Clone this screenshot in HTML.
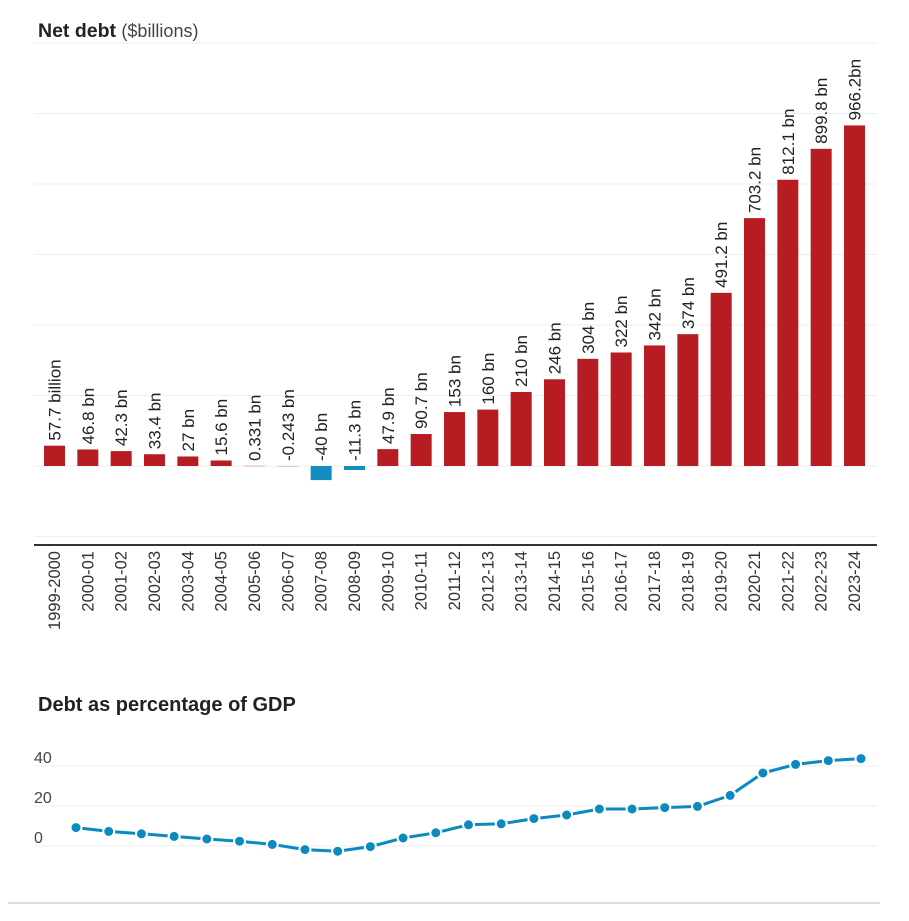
<!DOCTYPE html>
<html><head><meta charset="utf-8"><style>
body{margin:0;background:#fff;font-family:"Liberation Sans",sans-serif;}
svg{display:block}
</style></head><body>
<svg id="c" width="909" height="921">
<text x="38" y="37" font-size="19.5" font-weight="bold" fill="#222">Net debt <tspan font-weight="normal" font-size="18" fill="#444">($billions)</tspan></text>
<text x="38" y="711" font-size="20" font-weight="bold" fill="#222">Debt as percentage of GDP</text>
<line x1="8" x2="880" y1="903" y2="903" stroke="#ddd" stroke-width="2"/>
<g id="bars"></g><g id="line"></g>
</svg>
<script>
const categories=["1999-2000","2000-01","2001-02","2002-03","2003-04","2004-05","2005-06","2006-07","2007-08","2008-09","2009-10","2010-11","2011-12","2012-13","2013-14","2014-15","2015-16","2016-17","2017-18","2018-19","2019-20","2020-21","2021-22","2022-23","2023-24"];
const debtValues=[57.7,46.8,42.3,33.4,27,15.6,0.331,-0.243,-40,-11.3,47.9,90.7,153,160,210,246,304,322,342,374,491.2,703.2,812.1,899.8,966.2];
const debtLabels=["57.7 billion","46.8 bn","42.3 bn","33.4 bn","27 bn","15.6 bn","0.331 bn","-0.243 bn","-40 bn","-11.3 bn","47.9 bn","90.7 bn","153 bn","160 bn","210 bn","246 bn","304 bn","322 bn","342 bn","374 bn","491.2 bn","703.2 bn","812.1 bn","899.8 bn","966.2bn"];
const debtTicks=[-200,0,200,400,600,800,1000,1200];
const gdpPct=[9.2,7.3,6.1,4.8,3.5,2.4,0.8,-1.8,-2.6,-0.3,4,6.6,10.6,11.1,13.7,15.5,18.5,18.5,19.2,19.8,25.3,36.5,40.8,42.7,43.7];
const gdpTicks=[0,20,40];
const NS="http://www.w3.org/2000/svg";
function mk(t,a,p){const e=document.createElementNS(NS,t);for(const k in a)e.setAttribute(k,a[k]);p.appendChild(e);return e;}
const bx=i=>54.5+i*(800/24);
const by=v=>466-v*(70.5/200);
const bars=document.getElementById('bars');
debtTicks.forEach(t=>{const l=mk('line',{x1:34,x2:877,y1:by(t),y2:by(t),stroke:'#eee','stroke-width':1},bars);

});
const ax=mk('line',{x1:34,x2:877,y1:545,y2:545,stroke:'#333','stroke-width':2},bars);


categories.forEach((c,i)=>{
 const v=debtValues[i],x=bx(i),y0=by(0),y1=by(v);
 const r=mk('rect',{x:x-10.5,y:Math.min(y0,y1),width:21,height:Math.max(Math.abs(y1-y0),0.3),fill:v<0?'#118dbf':'#b71c22'},bars);
 
 
 const ly=Math.min(y0,y1)-5;
 const t=mk('text',{x:x+6,y:ly,'font-size':17,fill:'#222',transform:`rotate(-90 ${x+6} ${ly})`},bars);
 t.textContent=debtLabels[i];
 
 
 const xt=mk('text',{x:x+5.5,y:551,'font-size':16.5,fill:'#333','text-anchor':'end',transform:`rotate(-90 ${x+5.5} 551)`},bars);
 xt.textContent=c;
 
 
});
const lg=document.getElementById('line');
const lx=i=>76+i*(785/24);
const ly=v=>846-v*2;
gdpTicks.forEach(t=>{const l=mk('line',{x1:34,x2:877,y1:ly(t),y2:ly(t),stroke:'#eee','stroke-width':1},lg);


const tx=mk('text',{x:34,y:ly(t)-3,'font-size':16,fill:'#444'},lg);tx.textContent=t;

});
const pl=mk('polyline',{points:gdpPct.map((v,i)=>lx(i)+','+ly(v)).join(' '),fill:'none',stroke:'#0a8abf','stroke-width':3},lg);


gdpPct.forEach((v,i)=>{const c=mk('circle',{cx:lx(i),cy:ly(v),r:5.5,fill:'#0a8abf',stroke:'#fff','stroke-width':2},lg);

});
</script>
</body></html>
